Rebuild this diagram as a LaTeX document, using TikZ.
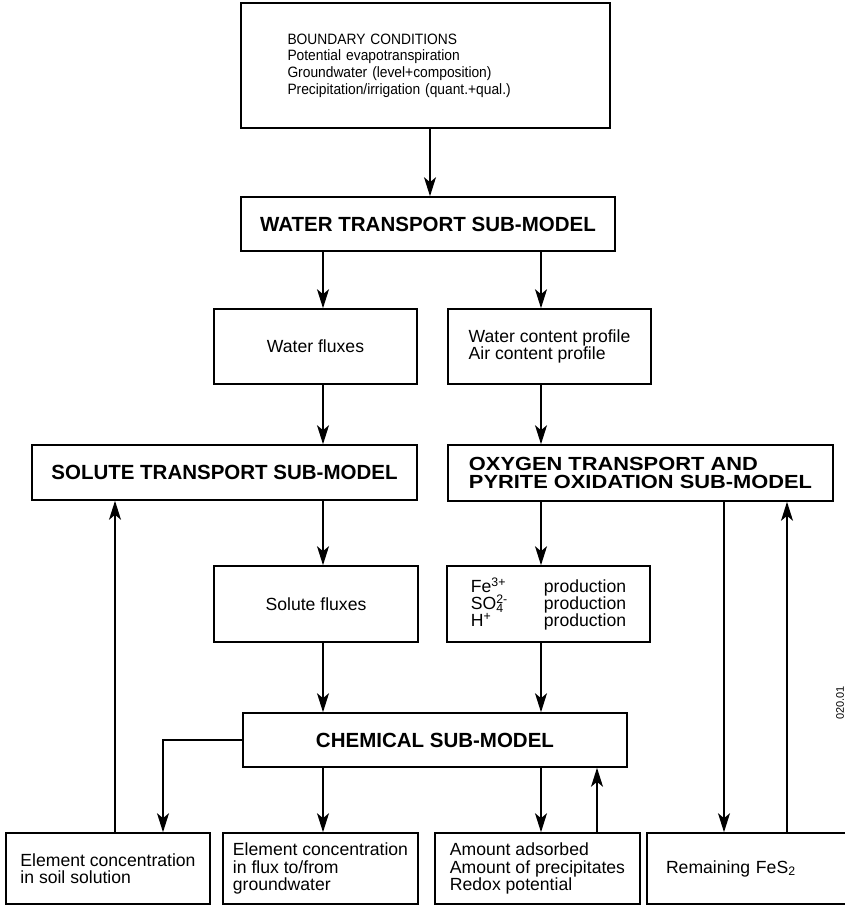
\documentclass[tikz,border=0pt]{standalone}
\usepackage{fontspec}
\setmainfont{Liberation Sans}
\newfontfamily\widefont{Liberation Sans}[FakeStretch=1.15]
\newfontfamily\narrowfont{Liberation Sans}[FakeStretch=0.92]
\usetikzlibrary{arrows.meta}
\begin{document}
\begin{tikzpicture}[x=1pt,y=-1pt,
  box/.style={draw, line width=1.6pt, inner sep=0pt, align=center},
  arr/.style={line width=1.3pt, -{Stealth[length=19pt,width=12pt,inset=5pt]}},
  head/.style={font=\fontsize{20.5}{22}\selectfont\bfseries},
  txt/.style={font=\fontsize{17.6}{17.5}\selectfont},
  smalltxt/.style={font=\narrowfont\fontsize{15}{16.7}\selectfont}]
\useasboundingbox (0,0) rectangle (845,907);

% column coordinates
\coordinate (xA) at (115,0);
\coordinate (xB) at (163,0);
\coordinate (xC) at (323,0);
\coordinate (xD) at (541,0);
\coordinate (xE) at (597,0);
\coordinate (xF) at (724,0);
\coordinate (xG) at (787,0);
\coordinate (xT) at (430,0);

\node[box, smalltxt, minimum width=369pt, minimum height=125pt, text width=276pt, align=left] (bc) at (425.5,65.5)
  {BOUNDARY CONDITIONS\\Potential evapotranspiration\\Groundwater (level+composition)\\Precipitation/irrigation (quant.+qual.)};

\node[box, head, minimum width=374pt, minimum height=54pt] (wt) at (428,224) {WATER TRANSPORT SUB-MODEL};

\node[box, txt, minimum width=203pt, minimum height=75pt] (wf) at (315.5,346.5) {Water fluxes};
\node[box, txt, minimum width=203pt, minimum height=75pt, align=left] (wc) at (549.5,346.5)
  {Water content profile\\Air content profile};

\node[box, head, minimum width=385pt, minimum height=55pt] (solute) at (224.5,472.5) {SOLUTE TRANSPORT SUB-MODEL};
\node[box, minimum width=385pt, minimum height=56pt, align=left,
  font=\widefont\bfseries\fontsize{19}{17.6}\selectfont] (oxygen) at (640.5,473)
  {OXYGEN TRANSPORT AND\\PYRITE OXIDATION SUB-MODEL};

\node[box, txt, minimum width=204pt, minimum height=76pt] (sf) at (316,604) {Solute fluxes};
\node[box, font=\fontsize{17.6}{17}\selectfont\setlength{\lineskiplimit}{-20pt}, minimum width=203pt, minimum height=76pt, align=left] (fe) at (548.5,604)
  {\makebox[73pt][l]{Fe\textsuperscript{3+}}production\\
   \makebox[73pt][l]{SO\rlap{\textsuperscript{2-}}\textsubscript{4}}production\\
   \makebox[73pt][l]{H\textsuperscript{+}}production};

\node[box, head, minimum width=384pt, minimum height=54pt] (chem) at (435,740) {CHEMICAL SUB-MODEL};

\node[box, txt, minimum width=204pt, minimum height=71pt, align=left] (b1) at (108,868.5)
  {Element concentration\\in soil solution};
\node[box, txt, minimum width=195pt, minimum height=71pt, align=left] (b2) at (320.5,868.5)
  {Element concentration\\in flux to/from\\groundwater};
\node[box, txt, minimum width=205pt, minimum height=71pt, align=left] (b3) at (537.5,868.5)
  {Amount adsorbed\\Amount of precipitates\\Redox potential};
\node[box, txt, minimum width=203pt, minimum height=71pt, text width=165pt, align=left] (b4) at (748.5,868.5)
  {Remaining FeS\textsubscript{2}};

\node[rotate=90, font=\fontsize{11}{12}\selectfont, inner sep=0pt] (code) at (840,703) {020.01};

% connectors
\draw[arr] (xT |- bc.south) -- (xT |- wt.north);
\draw[arr] (xC |- wt.south) -- (xC |- wf.north);
\draw[arr] (xD |- wt.south) -- (xD |- wc.north);
\draw[arr] (xC |- wf.south) -- (xC |- solute.north);
\draw[arr] (xD |- wc.south) -- (xD |- oxygen.north);
\draw[arr] (xC |- solute.south) -- (xC |- sf.north);
\draw[arr] (xD |- oxygen.south) -- (xD |- fe.north);
\draw[arr] (xC |- sf.south) -- (xC |- chem.north);
\draw[arr] (xD |- fe.south) -- (xD |- chem.north);
\draw[arr] (chem.west) -| (xB |- b1.north);
\draw[arr] (xC |- chem.south) -- (xC |- b2.north);
\draw[arr] (xD |- chem.south) -- (xD |- b3.north);
\draw[arr] (xE |- b3.north) -- (xE |- chem.south);
\draw[arr] (xF |- oxygen.south) -- (xF |- b4.north);
\draw[arr] (xG |- b4.north) -- (xG |- oxygen.south);
\draw[arr] (xA |- b1.north) -- (xA |- solute.south);
\end{tikzpicture}
\end{document}
